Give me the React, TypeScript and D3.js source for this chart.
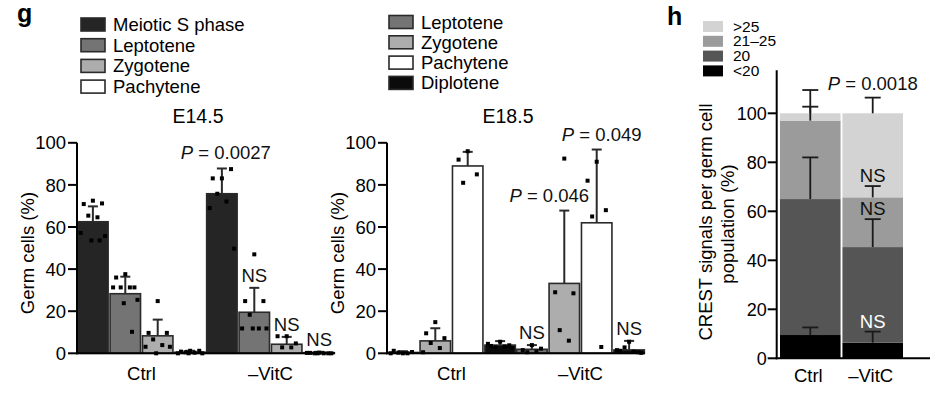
import React from "react";
import * as d3 from "d3";

const W = 940;
const H = 394;
const FONT = "'Liberation Sans', Arial, Helvetica, sans-serif";

// ---- panel g data ----
const groups = ["Ctrl", "–VitC"];

const e14Stages = ["Meiotic S phase", "Leptotene", "Zygotene", "Pachytene"];
const e14Mean = [
  [62.5, 28.3, 8.3, 0.5],
  [75.8, 19.5, 4.3, 0.3],
];
const e14ErrTop = [
  [69.8, 36.4, 16, 1.2],
  [87.8, 31.1, 7.8, 0.7],
];
const e14Points = [
  [
    [72.5, 70.9, 71.2, 65.4, 64.6, 57.2, 55.7, 53.6, 53.6],
    [37.6, 36, 31.3, 31.3, 31.3, 31.3, 25.4, 23.8, 10.2],
    [24.8, 9.7, 9.7, 6.6, 3.9, 3.1, 3.1, 0],
    [1.2, 0.8, 1.2, 0.5, 0.3, 0, 0, 0],
  ],
  [
    [83.1, 83.1, 87.5, 75.8, 72.1, 69, 49.7],
    [47, 24.8, 24.8, 18.3, 11.8, 11.8, 11.8, 11.8],
    [8.1, 8.1, 4.7, 2.8, 2.8],
    [0.3, 0.2, 0, 0, 0, 0.2, 0, 0],
  ],
];
const e14Notes = [
  [null, null, null, null],
  ["P = 0.0027", "NS", "NS", "NS"],
];

const e18Stages = ["Leptotene", "Zygotene", "Pachytene", "Diplotene"];
const e18Mean = [
  [0.4, 5.9, 89, 3.9],
  [1.9, 33.2, 62, 1.6],
];
const e18ErrTop = [
  [1.0, 11.9, 95.7, 5.8],
  [3.9, 67.8, 96.8, 5.9],
];
const e18Points = [
  [
    [0, 1.2, 0.6, 0.3, 0, 0],
    [14.8, 9.5, 7.2, 4.9, 2.5, 0.5],
    [96, 92, 85, 81],
    [5.5, 3.5, 3.8, 2.8, 3.2, 4.5, 2.5],
  ],
  [
    [3.9, 1.5, 2.2, 0.5, 0.8],
    [92.5, 29, 28.5, 11, 6],
    [91, 82, 68, 65, 3],
    [5.5, 1.2, 0.5, 2.8, 0.8, 1.5, 0.2],
  ],
];
const e18Notes = [
  [null, null, null, null],
  ["NS", "P = 0.046", "P = 0.049", "NS"],
];

const yTicks = [0, 20, 40, 60, 80, 100];

// ---- panel h data ----
const crestBins = ["<20", "20", "21–25", ">25"]; // bottom to top
const crestLegend = [">25", "21–25", "20", "<20"];
const crestCtrl = [9.5, 55.5, 32, 3];
const crestVitC = [6.4, 39, 20.3, 34.3];
const crestSdCtrl = [3.1, 17, 12.5, 2.7];
const crestSdVitC = [4.5, 11.4, 4.6, 6.4];
const crestNotesVitC = ["NS", "NS", "NS", "P = 0.0018"];

const stageColor: Record<string, string> = {
  "Meiotic S phase": "#252525",
  Leptotene: "#747474",
  Zygotene: "#adadad",
  Pachytene: "#ffffff",
  Diplotene: "#0b0b0b",
};
const crestColor: Record<string, string> = {
  "<20": "#000000",
  "20": "#555555",
  "21–25": "#9b9b9b",
  ">25": "#d3d3d3",
};

// little horizontal nudges for annotations that dodge neighbours
const noteShift: Record<string, number> = { "P = 0.046": -15, "P = 0.049": 5, "P = 0.0027": 4 };

const jitter = [0, -0.3, 0.3, -0.15, 0.15, -0.4, 0.4, -0.05, 0.22];

function PText({ x, y, text, fill = "#111" }: { x: number; y: number; text: string; fill?: string }) {
  if (text.startsWith("P")) {
    return (
      <text x={x} y={y} textAnchor="middle" fontSize={18.5} fill={fill}>
        <tspan fontStyle="italic">P</tspan>
        {text.slice(1)}
      </text>
    );
  }
  return (
    <text x={x} y={y} textAnchor="middle" fontSize={18.5} fill={fill}>
      {text}
    </text>
  );
}

function GroupedPanel(props: {
  x0: number;
  x1: number;
  title: string;
  stages: string[];
  mean: number[][];
  errTop: number[][];
  points: number[][][];
  notes: (string | null)[][];
}) {
  const { x0, x1, title, stages, mean, errTop, points, notes } = props;
  const y = d3.scaleLinear().domain([0, 100]).range([353.3, 142.8]);
  const gx = d3.scaleBand().domain(groups).range([x0, x1]).padding(0);
  const sx = d3.scaleBand().domain(stages).range([0, gx.bandwidth()]).paddingInner(0.06).paddingOuter(0.02);
  const bw = sx.bandwidth();

  return (
    <g>
      <text x={(x0 + x1) / 2 - 8} y={123} textAnchor="middle" fontSize={19.5}>
        {title}
      </text>
      {groups.map((g, gi) =>
        stages.map((s, si) => {
          const bx = (gx(g) as number) + (sx(s) as number);
          const cx = bx + bw / 2;
          const m = mean[gi][si];
          const e = errTop[gi][si];
          const note = notes[gi][si];
          return (
            <g key={g + s}>
              <rect
                x={bx}
                y={y(m)}
                width={bw}
                height={y(0) - y(m)}
                fill={stageColor[s]}
                stroke="#2a2a2a"
                strokeWidth={1.6}
              />
              <line x1={cx} x2={cx} y1={y(m)} y2={y(e)} stroke="#2a2a2a" strokeWidth={2} />
              <line x1={cx - 5} x2={cx + 5} y1={y(e)} y2={y(e)} stroke="#2a2a2a" strokeWidth={2} />
              {points[gi][si].map((v, pi) => (
                <rect
                  key={pi}
                  x={cx + jitter[pi % jitter.length] * bw - 2}
                  y={y(v) - 2}
                  width={4}
                  height={4}
                  fill="#000"
                />
              ))}
              {note && <PText x={cx + (noteShift[note] || 0)} y={y(e) - (note.startsWith("P") ? 9 : 6)} text={note} />}
            </g>
          );
        })
      )}
      {/* axes */}
      <line x1={x0} x2={x0} y1={y(0) + 1} y2={y(100)} stroke="#000" strokeWidth={2} />
      <line x1={x0 - 1} x2={x1} y1={y(0)} y2={y(0)} stroke="#000" strokeWidth={2} />
      {yTicks.map((t) => (
        <g key={t}>
          <line x1={x0 - 9} x2={x0} y1={y(t)} y2={y(t)} stroke="#000" strokeWidth={2} />
          <text x={x0 - 11} y={y(t)} dy="0.36em" textAnchor="end" fontSize={18.5}>
            {t}
          </text>
        </g>
      ))}
      {groups.map((g) => (
        <text key={g} x={(gx(g) as number) + gx.bandwidth() / 2} y={380} textAnchor="middle" fontSize={18.5}>
          {g}
        </text>
      ))}
      <text
        transform={`translate(${x0 - 43},${(y(0) + y(100)) / 2 + 5}) rotate(-90)`}
        textAnchor="middle"
        fontSize={18.5}
      >
        Germ cells (%)
      </text>
    </g>
  );
}

function Legend({ x, y0, step, items }: { x: number; y0: number; step: number; items: string[] }) {
  return (
    <g>
      {items.map((s, i) => (
        <g key={s}>
          <rect
            x={x}
            y={y0 + i * step - 6.5}
            width={24}
            height={13}
            fill={stageColor[s]}
            stroke="#2a2a2a"
            strokeWidth={1.6}
          />
          <text x={x + 32} y={y0 + i * step + 6.5} fontSize={18.5}>
            {s}
          </text>
        </g>
      ))}
    </g>
  );
}

function CrestPanel() {
  const y = d3.scaleLinear().domain([0, 100]).range([358.3, 113.3]);
  const x = d3.scaleBand().domain(groups).range([780, 903]).paddingInner(0.03);
  const table = [
    Object.fromEntries(crestBins.map((b, i) => [b, crestCtrl[i]])),
    Object.fromEntries(crestBins.map((b, i) => [b, crestVitC[i]])),
  ];
  const sds = [crestSdCtrl, crestSdVitC];
  const series = d3.stack<any>().keys(crestBins)(table);
  const axisX = 776.7;

  return (
    <g>
      {series.map((ser, bi) =>
        ser.map((d, gi) => (
          <rect
            key={bi + "-" + gi}
            x={x(groups[gi])}
            y={y(d[1])}
            width={x.bandwidth()}
            height={y(d[0]) - y(d[1])}
            fill={crestColor[crestBins[bi]]}
          />
        ))
      )}
      {series.map((ser, bi) =>
        ser.map((d, gi) => {
          const cx = (x(groups[gi]) as number) + x.bandwidth() / 2;
          const top = d[1] + sds[gi][bi];
          return (
            <g key={"e" + bi + gi}>
              <line x1={cx} x2={cx} y1={y(d[1])} y2={y(top)} stroke="#1a1a1a" strokeWidth={1.8} />
              <line x1={cx - 8} x2={cx + 8} y1={y(top)} y2={y(top)} stroke="#1a1a1a" strokeWidth={1.8} />
            </g>
          );
        })
      )}
      {series.map((ser, bi) => {
        const d = ser[1];
        const cx = (x(groups[1]) as number) + x.bandwidth() / 2;
        const top = d[1] + sds[1][bi];
        const note = crestNotesVitC[bi];
        const above = crestBins[bi + 1];
        const fill = above === "20" || above === "<20" ? "#fff" : "#111";
        const isP = note.startsWith("P");
        return <PText key={"n" + bi} x={cx} y={y(top) - (isP ? 8 : 4)} text={note} fill={fill} />;
      })}
      {/* axes */}
      <line x1={axisX} x2={axisX} y1={y(0) + 1} y2={y(117.6)} stroke="#000" strokeWidth={2} />
      <line x1={axisX - 1} x2={930} y1={y(0)} y2={y(0)} stroke="#000" strokeWidth={2} />
      {yTicks.map((t) => (
        <g key={t}>
          <line x1={axisX - 9} x2={axisX} y1={y(t)} y2={y(t)} stroke="#000" strokeWidth={2} />
          <text x={axisX - 10} y={y(t)} dy="0.36em" textAnchor="end" fontSize={18}>
            {t}
          </text>
        </g>
      ))}
      {groups.map((g) => (
        <text key={g} x={(x(g) as number) + x.bandwidth() / 2 - 2} y={382} textAnchor="middle" fontSize={18.5}>
          {g}
        </text>
      ))}
      <text transform={`translate(712,222) rotate(-90)`} textAnchor="middle" fontSize={18.5}>
        CREST signals per germ cell
      </text>
      <text transform={`translate(734,224) rotate(-90)`} textAnchor="middle" fontSize={18.5}>
        population (%)
      </text>
      {crestLegend.map((b, i) => (
        <g key={b}>
          <rect x={703} y={26.5 + i * 14.8 - 5.5} width={20} height={11} fill={crestColor[b]} />
          <text x={733} y={26.5 + i * 14.8 + 5} fontSize={15.5}>
            {b}
          </text>
        </g>
      ))}
    </g>
  );
}

export default function App() {
  return (
    <svg
      width={W}
      height={H}
      style={{ position: "absolute", left: 0, top: 0, background: "#fff" }}
      fontFamily={FONT}
    >
      <text x={17} y={22} fontSize={25} fontWeight={900}>
        g
      </text>
      <text x={667} y={25} fontSize={25} fontWeight={900}>
        h
      </text>
      <Legend x={81} y0={24.5} step={20.7} items={e14Stages} />
      <Legend x={389} y0={22} step={20.3} items={e18Stages} />
      <GroupedPanel
        x0={77}
        x1={335}
        title="E14.5"
        stages={e14Stages}
        mean={e14Mean}
        errTop={e14ErrTop}
        points={e14Points}
        notes={e14Notes}
      />
      <GroupedPanel
        x0={387}
        x1={645}
        title="E18.5"
        stages={e18Stages}
        mean={e18Mean}
        errTop={e18ErrTop}
        points={e18Points}
        notes={e18Notes}
      />
      <CrestPanel />
    </svg>
  );
}
